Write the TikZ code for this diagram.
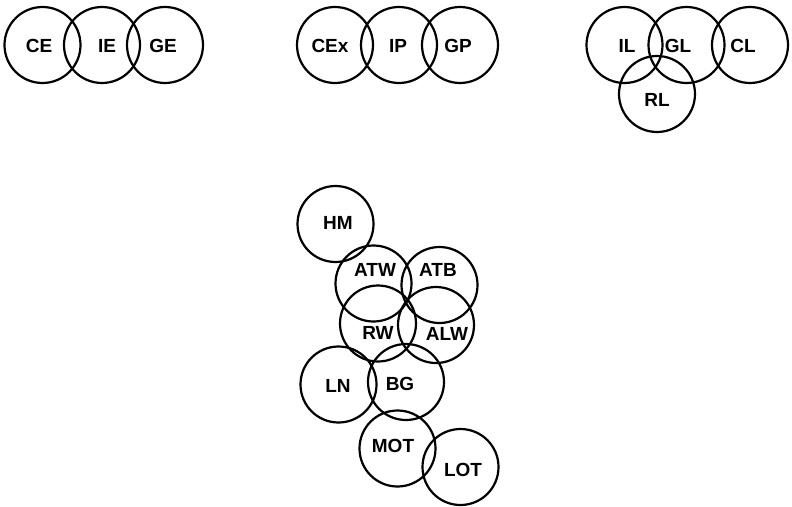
\documentclass[tikz,border=0pt]{standalone}
\usepackage{fontspec}
\setmainfont{Liberation Sans}
\begin{document}
\begin{tikzpicture}[x=1pt, y=-1pt, line width=2.2pt,
		ring/.style={circle, draw, minimum size=76pt, inner sep=0pt},
		tag/.style={font=\fontsize{19}{19}\selectfont\bfseries, inner sep=0pt}
		]
	\useasboundingbox (0,0) rectangle (792,506);
	% top left
	\node [ring] (ce) at (42.5,45) {};
	\node [ring] (ie) at (102,45) {};
	\node [ring] (ge) at (165,45) {};
	\node [tag] (ce-t) at (39,46) {CE};
	\node [tag] (ie-t) at (107,46) {IE};
	\node [tag] (ge-t) at (163,46) {GE};
	% top middle
	\node [ring] (cex) at (335,45) {};
	\node [ring] (ip) at (399,45) {};
	\node [ring] (gp) at (460,45) {};
	\node [tag] (cex-t) at (330,46) {CEx};
	\node [tag] (ip-t) at (398,46) {IP};
	\node [tag] (gp-t) at (458,46) {GP};
	% top right
	\node [ring] (il) at (624.5,45) {};
	\node [ring] (gl) at (686.5,45) {};
	\node [ring] (cl) at (750,45) {};
	\node [ring] (rl) at (657,94) {};
	\node [tag] (il-t) at (627,46) {IL};
	\node [tag] (gl-t) at (678,46) {GL};
	\node [tag] (cl-t) at (743,46) {CL};
	\node [tag] (rl-t) at (657,100) {RL};
	% bottom
	\node [ring] (hm) at (335.5,224) {};
	\node [ring] (atw) at (373.5,283.5) {};
	\node [ring] (atb) at (439.5,285) {};
	\node [ring] (rw) at (378,323.5) {};
	\node [ring] (alw) at (436,325) {};
	\node [ring] (ln) at (338.5,384.5) {};
	\node [ring] (bg) at (406,382) {};
	\node [ring] (mot) at (397.5,448.5) {};
	\node [ring] (lot) at (460.5,467) {};
	\node [tag] (hm-t) at (338,223) {HM};
	\node [tag] (atw-t) at (375,270) {ATW};
	\node [tag] (atb-t) at (438,270) {ATB};
	\node [tag] (rw-t) at (378,333) {RW};
	\node [tag] (alw-t) at (447,334) {ALW};
	\node [tag] (ln-t) at (338,386) {LN};
	\node [tag] (bg-t) at (400,384) {BG};
	\node [tag] (mot-t) at (393,446) {MOT};
	\node [tag] (lot-t) at (463,470) {LOT};
\end{tikzpicture}
\end{document}
